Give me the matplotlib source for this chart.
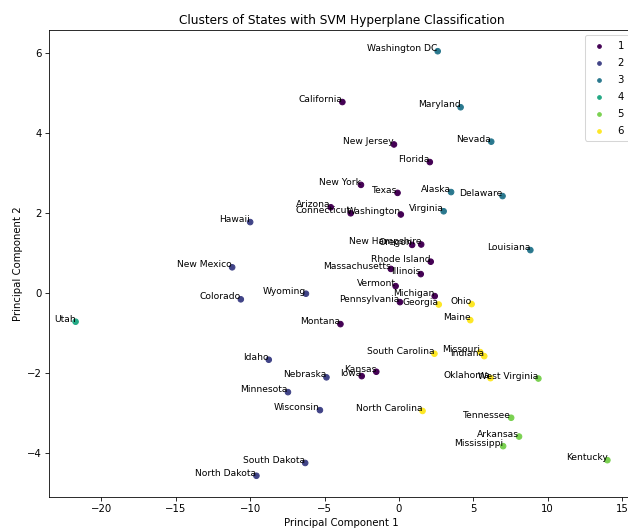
import matplotlib
matplotlib.use('Agg')
import matplotlib.pyplot as plt

states = ['Washington DC', 'California', 'Maryland', 'New Jersey', 'Nevada', 'Florida',
          'New York', 'Texas', 'Alaska', 'Delaware', 'Arizona', 'Connecticut', 'Washington',
          'Virginia', 'Hawaii', 'Oregon', 'New Hampshire', 'Louisiana', 'Rhode Island',
          'New Mexico', 'Massachusetts', 'Illinois', 'Vermont', 'Wyoming', 'Colorado',
          'Michigan', 'Pennsylvania', 'Georgia', 'Ohio', 'Utah', 'Maine', 'Montana',
          'South Carolina', 'Missouri', 'Indiana', 'Idaho', 'Kansas', 'Iowa', 'Nebraska',
          'Oklahoma', 'West Virginia', 'Minnesota', 'Wisconsin', 'North Carolina',
          'Tennessee', 'Arkansas', 'Mississippi', 'Kentucky', 'South Dakota', 'North Dakota']
pc1 = [2.61, -3.80, 4.15, -0.33, 6.21, 2.08,
       -2.55, -0.09, 3.51, 6.97, -4.58, -3.24, 0.13,
       3.01, -10.0, 0.89, 1.50, 8.84, 2.14,
       -11.21, -0.54, 1.47, -0.22, -6.25, -10.63,
       2.41, 0.07, 2.68, 4.89, -21.74, 4.80, -3.93,
       2.39, 5.47, 5.74, -8.75, -1.52, -2.50, -4.87,
       6.16, 9.38, -7.46, -5.31, 1.59,
       7.55, 8.08, 7.01, 14.02, -6.30, -9.58]
pc2 = [6.04, 4.77, 4.64, 3.71, 3.78, 3.27,
       2.70, 2.50, 2.52, 2.42, 2.14, 1.99, 1.96,
       2.04, 1.77, 1.20, 1.21, 1.07, 0.78,
       0.64, 0.60, 0.47, 0.17, -0.02, -0.16,
       -0.08, -0.23, -0.29, -0.28, -0.72, -0.68, -0.78,
       -1.52, -1.48, -1.58, -1.67, -1.97, -2.08, -2.11,
       -2.13, -2.14, -2.48, -2.93, -2.95,
       -3.12, -3.59, -3.83, -4.18, -4.25, -4.57]
clusters = [3, 1, 3, 1, 3, 1,
            1, 1, 3, 3, 1, 1, 1,
            3, 2, 1, 1, 3, 1,
            2, 1, 1, 1, 2, 2,
            1, 1, 6, 6, 4, 6, 1,
            6, 6, 6, 2, 1, 1, 2,
            6, 5, 2, 2, 6,
            5, 5, 5, 5, 2, 2]

fig = plt.figure(figsize=(628 / 73, 529 / 73), dpi=73)
ax = fig.add_axes([0.078, 0.0605, 0.9315, 0.8828])

sc = ax.scatter(pc1, pc2, c=clusters, cmap='viridis', s=30)
for name, x, y in zip(states, pc1, pc2):
    ax.text(x, y, name, fontsize=9, ha='right')

# one legend entry per cluster
handles, labels = sc.legend_elements()
ax.legend(handles, labels, loc='upper right', markerscale=0.6)
ax.set_title('Clusters of States with SVM Hyperplane Classification')
ax.set_xlabel('Principal Component 1')
ax.set_ylabel('Principal Component 2')

fig.savefig('out.png', dpi=73)
